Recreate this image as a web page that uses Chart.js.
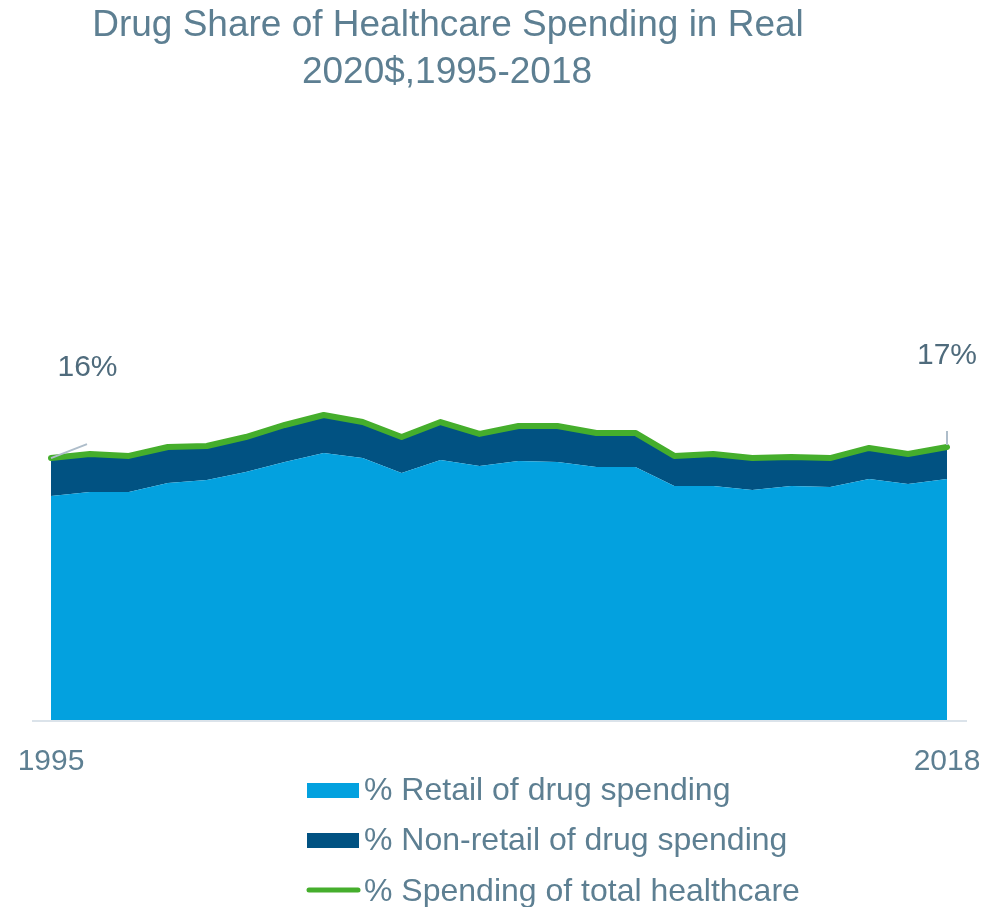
<!DOCTYPE html>
<html>
<head>
<meta charset="utf-8">
<title>Drug Share of Healthcare Spending</title>
<script src="https://cdn.jsdelivr.net/npm/chart.js@4"></script>
<style>
    body { margin: 0; background: #ffffff; }
    #wrap { width: 987px; height: 907px; position: relative; }
</style>
</head>
<body>
<div id="wrap"><canvas id="myChart"></canvas></div>
<script>
// valores (% do gasto total em saúde)
const anos = ['1995', '1996', '1997', '1998', '1999', '2000', '2001', '2002', '2003', '2004', '2005', '2006',
    '2007', '2008', '2009', '2010', '2011', '2012', '2013', '2014', '2015', '2016', '2017', '2018'];
const varejo = [13.74, 13.99, 13.99, 14.54, 14.72, 15.21, 15.83, 16.38, 16.07, 15.15, 15.95, 15.58,
    15.89, 15.83, 15.52, 15.52, 14.36, 14.36, 14.11, 14.36, 14.29, 14.79, 14.48, 14.79];
const naoVarejo = [2.33, 2.33, 2.21, 2.21, 2.09, 2.15, 2.27, 2.33, 2.21, 2.21, 2.33, 1.97,
    2.15, 2.21, 2.09, 2.09, 1.84, 1.96, 1.96, 1.77, 1.78, 1.90, 1.84, 1.96];
const total = [16.07, 16.32, 16.20, 16.75, 16.81, 17.36, 18.10, 18.71, 18.28, 17.36, 18.28, 17.55,
    18.04, 18.04, 17.61, 17.61, 16.20, 16.32, 16.07, 16.13, 16.07, 16.69, 16.32, 16.75];
const anosVisiveis = ['1995', '2018'];
const titulo = ['Drug Share of Healthcare Spending in Real', '2020$,1995-2018'];
const legendas = ['% Retail of drug spending', '% Non-retail of drug spending', '% Spending of total healthcare'];

const corTexto = '#5d7f92';
const fonte = "'Liberation Sans', Arial, sans-serif";

// título, anos, rótulos 16% / 17%, linha do eixo e legenda desenhados à mão
const extras = {
    id: 'extras',
    beforeDatasetsDraw(chart) {
        const ctx = chart.ctx;
        const area = chart.chartArea;
        ctx.save();
        ctx.strokeStyle = '#dbe3ea';
        ctx.lineWidth = 2;
        ctx.beginPath();
        ctx.moveTo(area.left - 19, area.bottom + 1);
        ctx.lineTo(area.right + 20, area.bottom + 1);
        ctx.stroke();
        ctx.restore();
    },
    afterDatasetsDraw(chart) {
        const ctx = chart.ctx;
        const meta = chart.getDatasetMeta(2);
        const p0 = meta.data[0];
        const p1 = meta.data[meta.data.length - 1];
        ctx.save();
        ctx.strokeStyle = '#aebdca';
        ctx.lineWidth = 2;
        ctx.beginPath();
        ctx.moveTo(p0.x, p0.y);
        ctx.lineTo(p0.x + 36, p0.y - 14);
        ctx.moveTo(p1.x, p1.y - 2);
        ctx.lineTo(p1.x, p1.y - 16);
        ctx.stroke();

        ctx.fillStyle = '#4f6b7c';
        ctx.font = '30px ' + fonte;
        ctx.textAlign = 'center';
        ctx.textBaseline = 'alphabetic';
        ctx.fillText(Math.round(total[0]) + '%', p0.x + 36.5, p0.y - 82);
        ctx.fillText(Math.round(total[total.length - 1]) + '%', p1.x, p1.y - 83);
        ctx.restore();
    },
    afterDraw(chart) {
        const ctx = chart.ctx;
        const escalaX = chart.scales.x;
        ctx.save();
        ctx.fillStyle = corTexto;
        ctx.textAlign = 'center';
        ctx.textBaseline = 'alphabetic';
        ctx.font = '37px ' + fonte;
        ctx.fillText(titulo[0], 448, 36);
        ctx.fillText(titulo[1], 447, 83);

        // anos do eixo x (só o primeiro e o último)
        ctx.font = '30px ' + fonte;
        anosVisiveis.forEach(function (ano) {
            const x = escalaX.getPixelForValue(anos.indexOf(ano));
            ctx.fillText(ano, x, chart.chartArea.bottom + 50);
        });

        // legenda vertical
        const ds = chart.data.datasets;
        const bases = [800, 850, 901];
        ctx.font = '32px ' + fonte;
        ctx.textAlign = 'left';
        ds.forEach(function (d, i) {
            const b = bases[i];
            if (!d.fill) {
                ctx.strokeStyle = d.borderColor;
                ctx.lineWidth = 5;
                ctx.lineCap = 'round';
                ctx.beginPath();
                ctx.moveTo(309, b - 11);
                ctx.lineTo(358, b - 11);
                ctx.stroke();
            } else {
                ctx.fillStyle = d.backgroundColor;
                ctx.fillRect(307, b - 17, 52, 15);
            }
            ctx.fillStyle = corTexto;
            ctx.fillText(d.label, 364, b);
        });
        ctx.restore();
    }
};

const dados = {
    labels: anos,
    datasets: [
        {
            label: legendas[0],
            data: varejo,
            backgroundColor: '#03a1df',
            borderWidth: 0,
            fill: 'origin',
            pointRadius: 0,
            stack: 'drogas',
            order: 1,
        },
        {
            label: legendas[1],
            data: naoVarejo,
            backgroundColor: '#015282',
            borderWidth: 0,
            fill: '-1',
            pointRadius: 0,
            stack: 'drogas',
            order: 2,
        },
        {
            label: legendas[2],
            data: total,
            borderColor: '#45ae2c',
            borderWidth: 6,
            fill: false,
            pointRadius: 0,
            borderCapStyle: 'round',
            borderJoinStyle: 'round',
            stack: 'total',
            order: 0,
        }
    ]
};

const config = {
    type: 'line',
    data: dados,
    options: {
        responsive: true,
        maintainAspectRatio: false,
        animation: false,
        layout: {
            padding: { top: 231, left: 51, right: 40, bottom: 187 }
        },
        elements: { line: { tension: 0 } },
        scales: {
            x: {
                display: false,
            },
            y: {
                display: false,
                stacked: true,
                min: 0,
                max: 30,
            }
        },
        plugins: {
            legend: { display: false },
            tooltip: { enabled: false },
            title: { display: false }
        }
    },
    plugins: [extras]
};

const ctx = document.getElementById('myChart').getContext('2d');
new Chart(ctx, config);
</script>
</body>
</html>
